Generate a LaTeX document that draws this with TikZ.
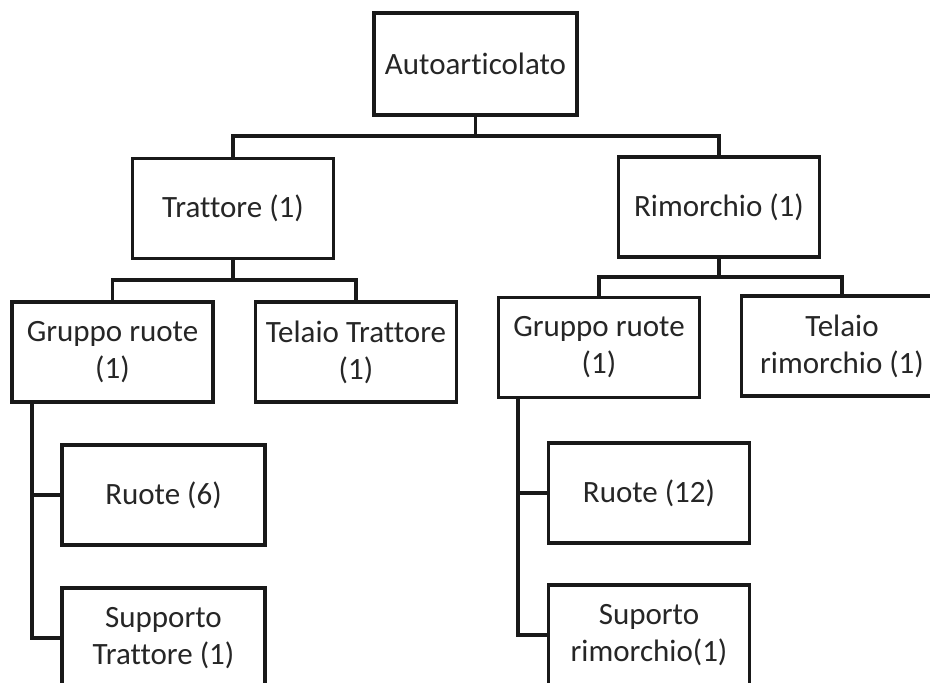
\documentclass[tikz,border=0pt]{standalone}
\usepackage{fontspec}
\setmainfont{Carlito}[Ligatures={NoCommon}]
\begin{document}
\begin{tikzpicture}[x=1pt,y=-1pt,
  box/.style={draw=black!90,line width=3.8pt,rectangle,minimum width=201pt,minimum height=100pt,inner sep=0pt,align=center,font=\fontsize{31}{37}\selectfont,text=black!85},
  conn/.style={draw=black!90,line width=3.8pt,line cap=rect}]
\useasboundingbox (0,0) rectangle (930,683);
\fill[white] (0,0) rectangle (930,683);
\clip (0,0) rectangle (930,683);
\node[box,minimum width=203pt,minimum height=102pt] (auto) at (475.5,64) {Autoarticolato};
\node[box] (trat) at (233,208.5) {Trattore (1)};
\node[box] (rim) at (719,207) {Rimorchio (1)};
\node[box] (gr1) at (112.5,352) {Gruppo ruote\\(1)};
\node[box] (tel1) at (356,352) {Telaio Trattore\\(1)};
\node[box] (gr2) at (599,347.5) {Gruppo ruote\\(1)};
\node[box] (tel2) at (842,346) {Telaio\\rimorchio (1)};
\node[box,minimum width=203pt] (r1) at (163.5,495) {Ruote (6)};
\node[box,minimum width=203pt] (s1) at (163.5,638) {Supporto\\Trattore (1)};
\node[box] (r2) at (649,493) {Ruote (12)};
\node[box] (s2) at (649,635) {Suporto\\rimorchio(1)};
% level 1
\coordinate (h0) at (475.5,136);
\draw[conn] (auto.south) -- (h0);
\draw[conn] (trat.north) -- (trat.north |- h0) -- (rim.north |- h0) -- (rim.north);
% trattore children
\coordinate (h1) at (233,280);
\draw[conn] (trat.south) -- (h1);
\draw[conn] (gr1.north) -- (gr1.north |- h1) -- (tel1.north |- h1) -- (tel1.north);
% rimorchio children
\coordinate (h2) at (719,277);
\draw[conn] (rim.south) -- (h2);
\draw[conn] (gr2.north) -- (gr2.north |- h2) -- (tel2.north |- h2) -- (tel2.north);
% left sub tree
\coordinate (v1) at (32,402);
\draw[conn] (v1) -- (v1 |- s1.west) -- (s1.west);
\draw[conn] (v1 |- r1.west) -- (r1.west);
% right sub tree
\coordinate (v2) at (518,398);
\draw[conn] (v2) -- (v2 |- s2.west) -- (s2.west);
\draw[conn] (v2 |- r2.west) -- (r2.west);
\end{tikzpicture}
\end{document}
